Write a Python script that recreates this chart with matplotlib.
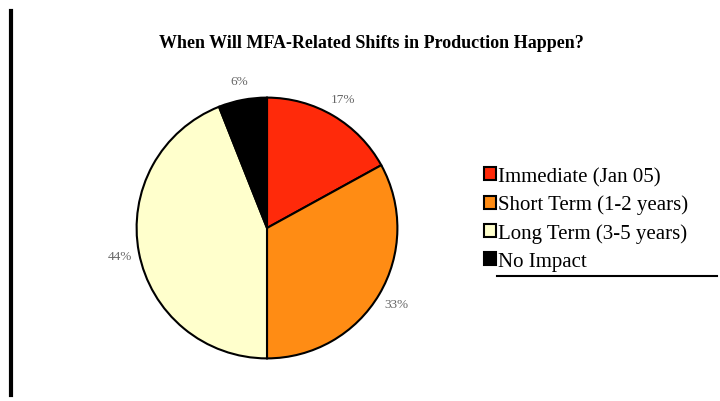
import matplotlib.pyplot as plt
from matplotlib.lines import Line2D

# data
categories = ['Immediate (Jan 05)', 'Short Term (1-2 years)',
              'Long Term (3-5 years)', 'No Impact']
shares = [17, 33, 44, 6]
colors = ['#FF2A0A', '#FF8C14', '#FFFFCC', '#000000']

W, H = 720, 402
fig = plt.figure(figsize=(W / 100, H / 100), dpi=100)
fig.patch.set_facecolor('white')

# pie axes placed in pixel terms (center ~ (267, 229), radius ~133)
cx, cy, r = 267, 229, 133
ax = fig.add_axes([(cx - r) / W, (H - cy - r) / H, 2 * r / W, 2 * r / H])

wedges, texts = ax.pie(
    shares,
    colors=colors,
    startangle=90,
    counterclock=False,
    labels=[f'{v}%' for v in shares],
    labeldistance=1.15,
    wedgeprops={'edgecolor': 'black', 'linewidth': 1.5},
    textprops={'family': 'Liberation Serif', 'fontsize': 9.5, 'color': '#666666'},
)
for t in texts:
    t.set_ha('center')
    t.set_va('center')
ax.set_xlim(-1.02, 1.02)
ax.set_ylim(-1.02, 1.02)
ax.set_aspect('equal')

# title
fig.text(371 / W, 1 - 43 / H,
         'When Will MFA-Related Shifts in Production Happen?',
         ha='center', va='center', family='Liberation Serif',
         fontweight='bold', fontsize=13)

# legend
fig.legend(wedges, categories, loc='upper left',
           bbox_to_anchor=(465 / W, 1 - 149 / H),
           frameon=False, handlelength=0.6, handleheight=0.6,
           handletextpad=0.1, labelspacing=0.42,
           prop={'family': 'Liberation Serif', 'size': 15})

# underline below legend and left border line
fig.add_artist(Line2D([497 / W, 717 / W], [1 - 277 / H, 1 - 277 / H],
                      color='black', linewidth=1.5, transform=fig.transFigure))
fig.add_artist(Line2D([11 / W, 11 / W], [1 - 12 / H, 1 - 396 / H],
                      color='black', linewidth=3, transform=fig.transFigure))

fig.savefig('out.png', dpi=100)
